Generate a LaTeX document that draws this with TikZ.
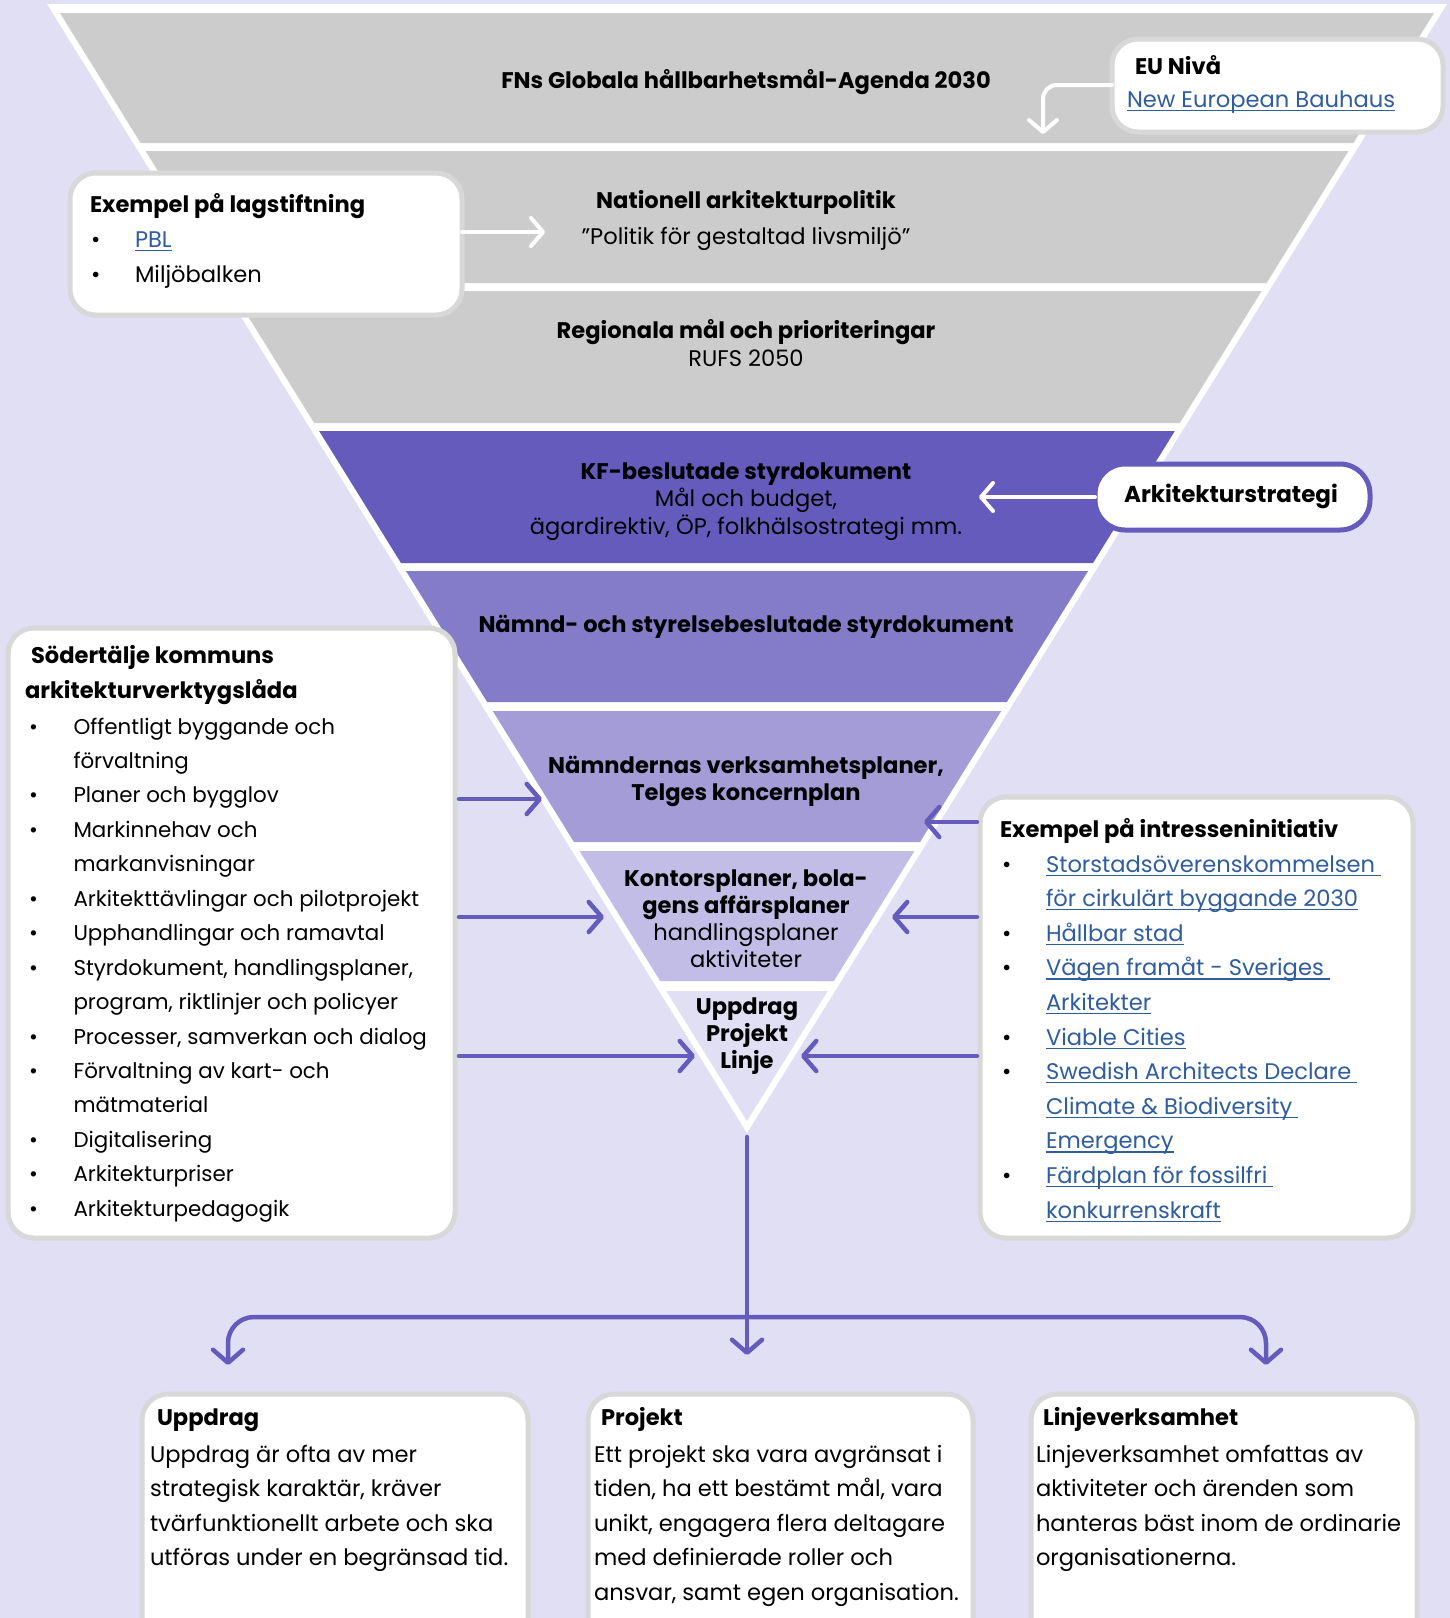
\documentclass[tikz,border=0pt]{standalone}
\usepackage{fontspec}
\setmainfont{Poppins}
\usetikzlibrary{arrows.meta}
\definecolor{bgc}{HTML}{E1DFF3}
\definecolor{bandgray}{HTML}{CCCCCC}
\definecolor{pa}{HTML}{655BBD}
\definecolor{pb}{HTML}{847CC8}
\definecolor{pc}{HTML}{A39CD7}
\definecolor{pd}{HTML}{C2BDE6}
\definecolor{boxgray}{HTML}{D8D8D8}
\definecolor{linkc}{HTML}{2F5D9F}
\newcommand\lnk[1]{\setbox0\hbox{#1}\rlap{\rule[-3.8pt]{\wd0}{1.2pt}}\box0}
\newcommand\fband[3]{\fill[#3] ({747-(687-0.62*(#1-13))},#1) -- ({747+(687-0.62*(#1-13))},#1) -- ({747+(687-0.62*(#2-13))},#2) -- ({747-(687-0.62*(#2-13))},#2) -- cycle;}
\begin{document}
\begin{tikzpicture}[x=1pt,y=-1pt,
  reg/.style={inner sep=0pt, outer sep=0pt, font=\fontsize{22.6}{26}\selectfont},
  regl/.style={inner sep=0pt, outer sep=0pt, font=\fontsize{21.4}{26}\selectfont},
  bld/.style={inner sep=0pt, outer sep=0pt, font=\fontsize{22.6}{26}\selectfont\bfseries},
  lw/.style={anchor=base west},
  cb/.style={anchor=base},
  graybox/.style={draw=boxgray, line width=5pt, fill=white, rounded corners=26pt, inner sep=0pt, outer sep=0pt, anchor=north west},
  parrow/.style={draw=pa, line width=4.5pt, line cap=round, -{Straight Barb[length=13pt,width=30pt,line cap=round,line join=round]}},
  warrow/.style={draw=white, line width=4pt, line cap=round, -{Straight Barb[length=12pt,width=28pt,line cap=round,line join=round]}},
]
\useasboundingbox (0,0) rectangle (1450,1618);
\clip (0,0) rectangle (1450,1618);
\fill[bgc] (0,0) rectangle (1450,1618);

% funnel
\fill[white] (47,4) -- (1447,4) -- (747,1133) -- cycle;
\fband{13}{143}{bandgray}
\fband{151}{283}{bandgray}
\fband{291}{423}{bandgray}
\fband{431}{563}{pa}
\fband{571}{702}{pb}
\fband{711}{842}{pc}
\fband{851}{981}{pd}
\fband{991}{1121}{bgc}

% funnel texts
\node[bld,cb] (t1) at (746,88) {FNs Globala hållbarhetsmål-Agenda 2030};
\node[bld,cb] (t2a) at (746,208) {Nationell arkitekturpolitik};
\node[reg,cb] (t2b) at (746,244) {”Politik för gestaltad livsmiljö”};
\node[bld,cb] (t3a) at (746,338) {Regionala mål och prioriteringar};
\node[reg,cb] (t3b) at (746,366) {RUFS 2050};
\node[bld,cb] (t4a) at (746,479) {KF-beslutade styrdokument};
\node[reg,cb] (t4b) at (746,506) {Mål och budget,};
\node[reg,cb] (t4c) at (746,534) {ägardirektiv, ÖP, folkhälsostrategi mm.};
\node[bld,cb] (t5) at (746,632) {Nämnd- och styrelsebeslutade styrdokument};
\node[bld,cb] (t6a) at (746,773) {Nämndernas verksamhetsplaner,};
\node[bld,cb] (t6b) at (746,800) {Telges koncernplan};
\node[bld,cb] (t7a) at (746,886) {Kontorsplaner, bola-};
\node[bld,cb] (t7b) at (746,913) {gens affärsplaner};
\node[reg,cb] (t7c) at (746,940) {handlingsplaner};
\node[reg,cb] (t7d) at (746,967) {aktiviteter};
\node[bld,cb] (t8a) at (747,1014) {Uppdrag};
\node[bld,cb] (t8b) at (747,1041) {Projekt};
\node[bld,cb] (t8c) at (747,1068) {Linje};

% boxes
\node[graybox, minimum width=331pt, minimum height=93pt] (eubox) at (1112,39) {};
\node[graybox, minimum width=392pt, minimum height=142pt] (lagbox) at (70,173) {};
\node[graybox, draw=pa, minimum width=275pt, minimum height=66pt, rounded corners=30pt] (arkbox) at (1095,464) {};
\node[graybox, minimum width=447pt, minimum height=610pt] (leftbox) at (8,628) {};
\node[graybox, minimum width=433pt, minimum height=441pt] (rightbox) at (980,797) {};
\node[graybox, minimum width=386pt, minimum height=270pt] (ubox) at (142,1394) {};
\node[graybox, minimum width=385pt, minimum height=270pt] (pbox) at (588,1394) {};
\node[graybox, minimum width=386pt, minimum height=270pt] (lbox) at (1031,1394) {};

% EU box text
\node[bld,lw] (eut) at (1135,74) {EU Nivå};
\node[reg,lw,text=linkc] (eul) at (1127,107) {\lnk{New European Bauhaus}};

% lagstiftning
\node[bld,lw] (lagt) at (90,212) {Exempel på lagstiftning};
\node[reg,lw] (lagb1) at (91,247) {\textbullet};
\node[reg,lw,text=linkc] (lag1) at (135,247) {\lnk{PBL}};
\node[reg,lw] (lagb2) at (91,282) {\textbullet};
\node[reg,lw] (lag2) at (135,282) {Miljöbalken};

% Arkitekturstrategi
\node[bld,cb,font=\fontsize{23}{26}\selectfont\bfseries] (arkt) at (1231,502) {Arkitekturstrategi};

% left box
\node[bld,lw] (slt1) at (31,663) {Södertälje kommuns};
\node[bld,lw] (slt2) at (25,698) {arkitekturverktygslåda};
\foreach \bul/\txt [count=\i] in {1/Offentligt byggande och, 0/förvaltning, 1/Planer och bygglov, 1/Markinnehav och, 0/markanvisningar, 1/Arkitekttävlingar och pilotprojekt, 1/Upphandlingar och ramavtal, 1/{Styrdokument, handlingsplaner,}, 0/{program, riktlinjer och policyer}, 1/{Processer, samverkan och dialog}, 1/Förvaltning av kart- och, 0/mätmaterial, 1/Digitalisering, 1/Arkitekturpriser, 1/Arkitekturpedagogik}{
  \node[regl,lw] (sl\i) at (73.5,{734+34.45*(\i-1)}) {\txt};
  \ifnum\bul=1 \node[regl,lw] (sb\i) at (29,{734+34.45*(\i-1)}) {\textbullet};\fi
}

% right box
\node[bld,lw] (rt) at (1000,837) {Exempel på intresseninitiativ};
\foreach \bul/\txt [count=\i] in {1/{Storstadsöverenskommelsen\ }, 0/{för cirkulärt byggande 2030}, 1/{Hållbar stad}, 1/{Vägen framåt - Sveriges\ }, 0/{Arkitekter}, 1/{Viable Cities}, 1/{Swedish Architects Declare\ }, 0/{Climate \& Biodiversity\ }, 0/{Emergency}, 1/{Färdplan för fossilfri\ }, 0/{konkurrenskraft}}{
  \node[reg,lw,text=linkc] (rl\i) at (1046,{872+34.6*(\i-1)}) {\lnk{\txt}};
  \ifnum\bul=1 \node[reg,lw] (rb\i) at (1002,{872+34.6*(\i-1)}) {\textbullet};\fi
}

% bottom boxes
\node[bld,lw] (ut) at (157,1425) {Uppdrag};
\foreach \txt [count=\i] in {Uppdrag är ofta av mer, {strategisk karaktär, kräver}, tvärfunktionellt arbete och ska, utföras under en begränsad tid.}
  \node[reg,lw] (ub\i) at (150,{1462+34.6*(\i-1)}) {\txt};
\node[bld,lw] (pt) at (601,1425) {Projekt};
\foreach \txt [count=\i] in {Ett projekt ska vara avgränsat i, {tiden, ha ett bestämt mål, vara}, {unikt, engagera flera deltagare}, med definierade roller och, {ansvar, samt egen organisation.}}
  \node[reg,lw] (pb\i) at (594,{1462+34.6*(\i-1)}) {\txt};
\node[bld,lw] (lt) at (1043,1425) {Linjeverksamhet};
\foreach \txt [count=\i] in {Linjeverksamhet omfattas av, aktiviteter och ärenden som, hanteras bäst inom de ordinarie, organisationerna.}
  \node[reg,lw] (lb\i) at (1036,{1462+34.6*(\i-1)}) {\txt};

% white arrows
\coordinate (euy) at (0,85);
\coordinate (eutip) at (1043,134);
\draw[warrow, rounded corners=14pt] (eubox.west |- euy) -| (eutip);
\coordinate (lagtip) at (545,232);
\draw[warrow] (lagbox.east |- lagtip) -- (lagtip);
\coordinate (arktip) at (979,497);
\draw[warrow] (arkbox.west) -- (arktip);

% purple arrows
\coordinate (la) at (542,799);
\coordinate (lb) at (604,917);
\coordinate (lc) at (695,1056);
\coordinate (ra) at (924,822);
\coordinate (rb) at (892,917);
\coordinate (rc) at (801,1056);
\foreach \c in {la,lb,lc} \draw[parrow, shorten <=4pt] (leftbox.east |- \c) -- (\c);
\foreach \c in {ra,rb,rc} \draw[parrow, shorten <=3pt] (rightbox.west |- \c) -- (\c);

\coordinate (apex) at (747,1137);
\coordinate (branch) at (747,1317);
\coordinate (mtip) at (747,1355);
\coordinate (ltip) at (228,1365);
\coordinate (rtip) at (1266,1365);
\draw[parrow] (apex) -- (mtip);
\draw[parrow, rounded corners=26pt] (branch) -| (ltip);
\draw[parrow, rounded corners=26pt] (branch) -| (rtip);
\end{tikzpicture}
\end{document}
